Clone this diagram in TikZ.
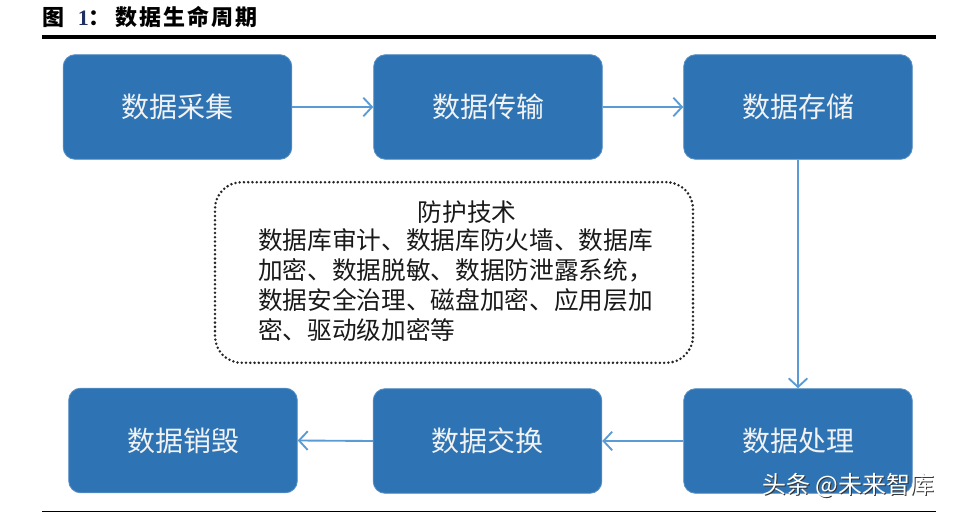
\documentclass[tikz,border=0pt]{standalone}
\usepackage{fontspec}
\setmainfont{Liberation Serif}
\newfontfamily\cjk{Noto Sans CJK SC}
\usetikzlibrary{arrows.meta}
\definecolor{boxblue}{HTML}{2E74B5}
\definecolor{arrowblue}{HTML}{5B9BD5}
\definecolor{boxtext}{HTML}{F2F2F2}
\definecolor{numblue}{HTML}{1F2F5F}
\newcommand{\tsp}{\hspace{1.5pt}}
\tikzset{
  stagebox/.style={fill=boxblue, draw=boxblue!80!white, line width=0.6pt, rounded corners=9pt,
    minimum width=171.5pt, minimum height=78.5pt, inner sep=0pt,
    text=boxtext, font=\cjk\fontsize{21}{24}\selectfont},
  flowarrow/.style={draw=arrowblue, line width=1.4pt, -{Straight Barb[length=6.5pt,width=14pt,line width=1.4pt]}},
  dotbox/.style={draw=black!85, line width=2.1pt, dash pattern=on 0pt off 3.2pt, line cap=round,
    rounded corners=20pt, minimum width=358.5pt, minimum height=135.5pt, inner sep=0pt},
  prottext/.style={font=\cjk\fontsize{18.5}{22.5}\selectfont, text=black!90, inner sep=0pt},
}
\begin{document}
\begin{tikzpicture}[x=0.75pt,y=-0.75pt]
\useasboundingbox (0,0) rectangle (954,513);
% title
\node[anchor=west, inner sep=0pt, font=\fontsize{16.5}{19}\selectfont] (title) at (42.5,17.5)
  {{\cjk\bfseries 图}\hspace{9.75pt}{\bfseries\color{numblue}1}{\cjk\bfseries ：}\hspace{3.75pt}{\cjk\bfseries 数\tsp 据\tsp 生\tsp 命\tsp 周\tsp 期}};
\coordinate (tl1) at (42,37);
\coordinate (tl2) at (936,37);
\draw[line width=2.4pt, black] (tl1) -- (tl2);
\coordinate (bl1) at (42,511.5);
\coordinate (bl2) at (936,511.5);
\draw[line width=1.1pt, black] (bl1) -- (bl2);

% boxes
\node[stagebox] (cj) at (177.5,107) {数据采集};
\node[stagebox] (cs) at (488,107) {数据传输};
\node[stagebox] (cc) at (798,107) {数据存储};
\node[stagebox] (cl) at (798,441) {数据处理};
\node[stagebox] (jh) at (487.5,441) {数据交换};
\node[stagebox] (xh) at (183,440.5) {数据销毁};

% arrows
\draw[flowarrow] (cj.east) -- (cs.west);
\draw[flowarrow] (cs.east) -- (cc.west);
\draw[flowarrow] (cc.south) -- (cl.north);
\draw[flowarrow] (cl.west) -- (jh.east);
\draw[flowarrow] (jh.west) -- (xh.east);

% protection box
\node[dotbox] (pb) at (454,272.5) {};
\node[prottext] (pt) at (467,212) {防护技术};
\node[prottext, anchor=north west, align=left] (pl) at (258,228)
  {数据库审计、数据库防火墙、数据库\\加密、数据脱敏、数据防泄露系统，\\数据安全治理、磁盘加密、应用层加\\密、驱动级加密等};

% watermark
\node[anchor=west, inner sep=0pt, font=\cjk\fontsize{18}{20}\selectfont, text=black!80] (wms) at (763,486.5) {头条 @未来智库};
\node[anchor=west, inner sep=0pt, font=\cjk\fontsize{18}{20}\selectfont, text=white] (wm) at (762,485.5) {头条 @未来智库};
\end{tikzpicture}
\end{document}
